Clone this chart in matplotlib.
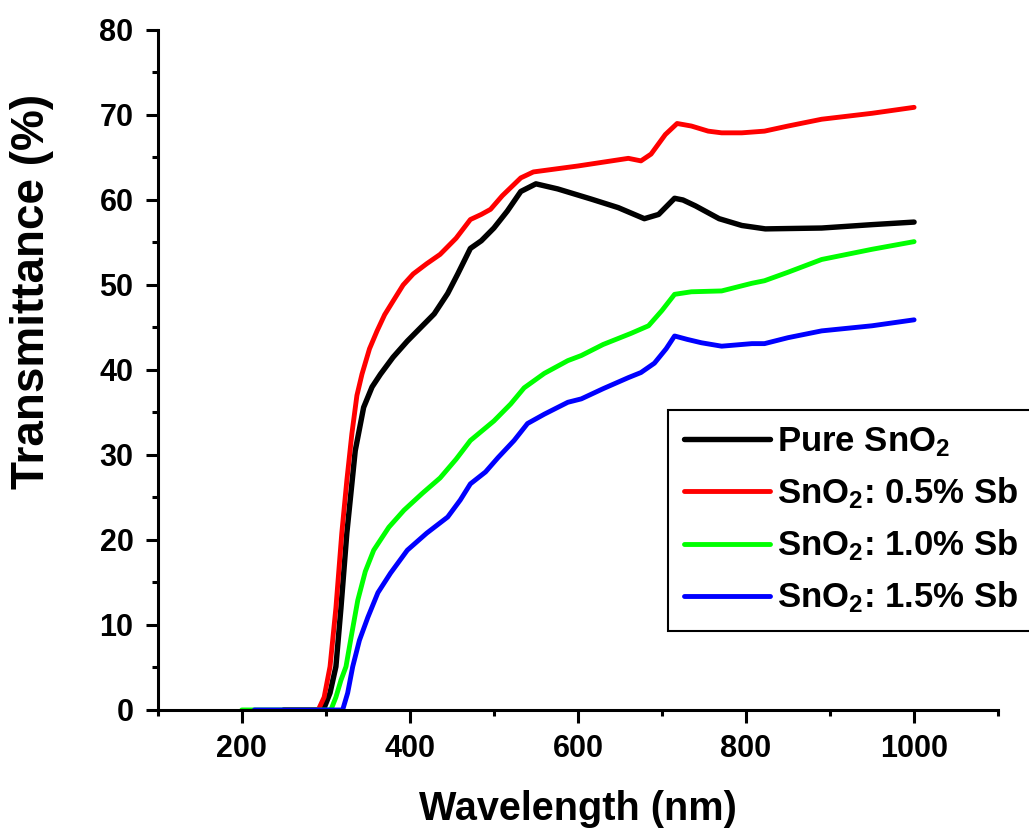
import matplotlib
matplotlib.use('Agg')
import matplotlib.pyplot as plt
from matplotlib.ticker import MultipleLocator

plt.rcParams['font.family'] = ['Liberation Sans', 'DejaVu Sans']
plt.rcParams['font.weight'] = 'bold'
plt.rcParams['mathtext.fontset'] = 'custom'
plt.rcParams['mathtext.rm'] = 'Liberation Sans:bold'
plt.rcParams['mathtext.it'] = 'Liberation Sans:bold'
plt.rcParams['mathtext.bf'] = 'Liberation Sans:bold'
plt.rcParams['mathtext.default'] = 'rm'

# Pure SnO2
wl_pure = [250, 297, 305, 312, 318, 325, 335, 345, 355, 365, 380, 397, 413, 429,
           445, 457, 472, 485, 500, 516, 532, 550, 576, 616, 648, 679, 696, 715,
           725, 740, 768, 795, 823, 890, 950, 1000]
t_pure = [0, 0, 2.0, 5.1, 12.0, 20.8, 30.5, 35.6, 38.0, 39.5, 41.5, 43.4, 45.0, 46.6,
          49.0, 51.3, 54.3, 55.2, 56.7, 58.7, 61.0, 61.9, 61.3, 60.1, 59.1, 57.8, 58.3, 60.2,
          60.0, 59.3, 57.8, 57.0, 56.6, 56.7, 57.1, 57.4]

# SnO2 : 0.5% Sb
wl_05 = [250, 291, 298, 305, 312, 319, 325, 331, 337, 343, 352, 361, 370, 380, 392,
         404, 420, 436, 455, 472, 485, 496, 510, 532, 547, 600, 660, 675, 687, 704,
         718, 735, 755, 771, 795, 822, 850, 890, 950, 1000]
t_05 = [0, 0, 1.5, 5.1, 12.0, 20.8, 27.0, 32.5, 37.0, 39.5, 42.5, 44.6, 46.5, 48.1, 50.0,
        51.3, 52.5, 53.6, 55.5, 57.7, 58.3, 58.9, 60.5, 62.6, 63.3, 64.0, 64.9, 64.6, 65.4, 67.7,
        69.0, 68.7, 68.1, 67.9, 67.9, 68.1, 68.7, 69.5, 70.2, 70.9]

# SnO2 : 1.0% Sb
wl_10 = [200, 306, 312, 318, 324, 330, 338, 347, 357, 375, 393, 415, 436, 455, 472,
         500, 520, 536, 560, 588, 604, 630, 663, 684, 700, 715, 735, 771, 807, 822,
         850, 890, 950, 1000]
t_10 = [0, 0, 1.5, 3.5, 5.1, 8.5, 12.9, 16.3, 18.8, 21.5, 23.5, 25.5, 27.3, 29.5, 31.7,
        34.0, 36.0, 37.9, 39.6, 41.1, 41.7, 43.0, 44.3, 45.2, 47.0, 48.9, 49.2, 49.3, 50.2, 50.5,
        51.5, 53.0, 54.2, 55.1]

# SnO2 : 1.5% Sb
wl_15 = [215, 320, 326, 332, 340, 350, 362, 377, 397, 420, 445, 460, 472, 490, 505,
         524, 540, 560, 588, 604, 630, 660, 675, 691, 705, 715, 730, 747, 771, 807,
         822, 850, 890, 950, 1000]
t_15 = [0, 0, 2.0, 5.1, 8.2, 10.9, 13.8, 16.1, 18.8, 20.8, 22.7, 24.7, 26.6, 28.0, 29.7,
        31.7, 33.7, 34.8, 36.2, 36.6, 37.8, 39.1, 39.7, 40.8, 42.5, 44.0, 43.6, 43.2, 42.8, 43.1,
        43.1, 43.8, 44.6, 45.2, 45.9]

labels = ['Pure SnO$_2$', 'SnO$_2$: 0.5% Sb', 'SnO$_2$: 1.0% Sb', 'SnO$_2$: 1.5% Sb']
colors = ['#000000', '#ff0000', '#00ff00', '#0000ff']
widths = [3.9, 3.5, 3.5, 3.5]

fig = plt.figure(figsize=(10.29, 8.33), dpi=100)
ax = fig.add_axes([0.1533, 0.1477, 0.8167, 0.8163])

series = [(wl_pure, t_pure), (wl_05, t_05), (wl_10, t_10), (wl_15, t_15)]
for (x, y), lab, col, lw in zip(series, labels, colors, widths):
    ax.plot(x, y, color=col, lw=lw, label=lab, solid_capstyle='round',
            solid_joinstyle='round')

ax.set_xlim(100, 1100)
ax.set_ylim(0, 80)
ax.xaxis.set_major_locator(MultipleLocator(200))
ax.xaxis.set_minor_locator(MultipleLocator(100))
ax.yaxis.set_major_locator(MultipleLocator(10))
ax.yaxis.set_minor_locator(MultipleLocator(5))

for side in ['top', 'right']:
    ax.spines[side].set_visible(False)
for side in ['left', 'bottom']:
    ax.spines[side].set_linewidth(2.2)

ax.tick_params(which='major', direction='out', length=9, width=2.2, labelsize=22, pad=8.5)
ax.tick_params(which='minor', direction='out', length=4.5, width=2.2)

ax.set_xlabel('Wavelength (nm)', fontsize=28.5, fontweight='bold')
ax.set_ylabel('Transmittance (%)', fontsize=33, fontweight='bold')
ax.xaxis.set_label_coords(0.5, -0.118)
ax.yaxis.set_label_coords(-0.123, 0.615)

leg = ax.legend(loc='upper left', bbox_to_anchor=(668 / 1029, 1 - 410 / 833),
                bbox_transform=fig.transFigure, fontsize=25, frameon=True,
                fancybox=False, edgecolor='black', framealpha=1,
                handlelength=2.5, handletextpad=0.18, labelspacing=0.47,
                borderpad=0.45, borderaxespad=0)
leg.get_frame().set_linewidth(1.5)

fig.savefig('out.png', dpi=100)
